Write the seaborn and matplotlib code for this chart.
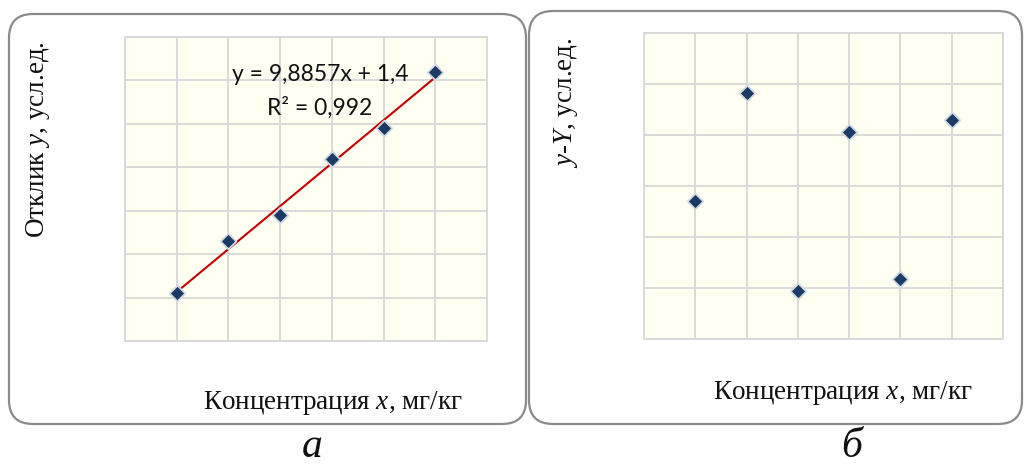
import matplotlib
matplotlib.use("Agg")
import matplotlib.pyplot as plt
import matplotlib.patches as mpatches
from matplotlib.transforms import IdentityTransform
import seaborn as sns
import pandas as pd
import numpy as np

# ---- data ----
conc_x = [1, 2, 3, 4, 5, 6]
response_y = [11, 23, 29, 42, 49, 62]
residuals = [-0.29, 1.83, -2.06, 1.06, -1.83, 1.29]
eq_text = "y = 9,8857x + 1,4"
r2_text = "R² = 0,992"
ylabel_a = ["Отклик ", "y", ", усл.ед."]
ylabel_b = ["y", "-", "Y", ", усл.ед."]
xlabel_parts = ["Концентрация ", "x", ", мг/кг"]
panel_labels = ["а", "б"]

sns.set_theme(style="white")
plt.rcParams["font.family"] = ["DejaVu Sans"]
plt.rcParams["mathtext.fontset"] = "custom"
plt.rcParams["mathtext.it"] = "Liberation Serif:italic"
plt.rcParams["mathtext.rm"] = "Liberation Serif"

W, H = 1025, 468
fig = plt.figure(figsize=(W / 100, H / 100), dpi=100)
fig.patch.set_facecolor("white")

def px_axes(l, t, r, b):
    return fig.add_axes([l / W, (H - b) / H, (r - l) / W, (b - t) / H])

# frames
for (x0, y0, x1, y1) in [(9, 14, 526, 424), (529, 11, 1022, 424)]:
    fp = mpatches.FancyBboxPatch((x0, H - y1), x1 - x0, y1 - y0,
                                 boxstyle="round,pad=0,rounding_size=24",
                                 transform=IdentityTransform(),
                                 facecolor="none", edgecolor="#8a8a8a", lw=1.6)
    fig.add_artist(fp)

bg = "#FFFFF2"
gridc = "#D9D9D9"
mcol = "#1B3A66"
medge = "#D3D9E0"

def style_ax(ax, xlim, ylim, step):
    ax.set_facecolor(bg)
    ax.set_xlim(*xlim)
    ax.set_ylim(*ylim)
    ax.set_xticks(range(xlim[0], xlim[1] + 1))
    ax.set_yticks(np.arange(ylim[0], ylim[1] + step / 2, step))
    ax.tick_params(length=0, labelbottom=False, labelleft=False)
    ax.grid(True, color=gridc, lw=1.4)
    ax.set_axisbelow(True)
    for s in ax.spines.values():
        s.set_color(gridc)
        s.set_linewidth(1.4)
    ax.set_xlabel("")
    ax.set_ylabel("")

df = pd.DataFrame({"x": conc_x, "y": response_y, "r": residuals})

# panel a
axa = px_axes(125, 37, 487, 341)
sns.regplot(data=df, x="x", y="y", ax=axa, ci=None, scatter=False,
            line_kws=dict(color="#C00000", lw=1.5))
sns.scatterplot(data=df, x="x", y="y", ax=axa, marker="D", s=64,
                color=mcol, edgecolor=medge, linewidth=1.3, zorder=5)
style_ax(axa, (0, 7), (0, 70), 10)
axa.text(3.77, 61.3, eq_text, ha="center", va="center", fontsize=16.5,
         family="Lato", color="#111111")
axa.text(3.77, 53.6, r2_text, ha="center", va="center", fontsize=16.5,
         family="Lato", color="#111111")

# panel b
axb = px_axes(644, 33, 1003, 339)
sns.scatterplot(data=df, x="x", y="r", ax=axb, marker="D", s=64,
                color=mcol, edgecolor=medge, linewidth=1.3, zorder=5)
style_ax(axb, (0, 7), (-3, 3), 1)

serif = "Liberation Serif"
fs = 19.5

def label_parts(x, y, parts, italic_idx, rotation=0):
    s = ""
    for i, p in enumerate(parts):
        if i in italic_idx:
            s += r"$\mathit{" + p + "}$"
        else:
            s += p
    fig.text(x / W, 1 - y / H, s, ha="center", va="center", rotation=rotation,
             fontsize=fs, family=serif, color="#111111")

label_parts(38, 140, ylabel_a, {1}, rotation=90)
label_parts(333, 403, xlabel_parts, {1})
label_parts(566, 103, ylabel_b, {0, 2}, rotation=90)
label_parts(843, 393, xlabel_parts, {1})

fig.text(312 / W, 1 - 457 / H, panel_labels[0], ha="center", va="baseline",
         fontsize=30, family=serif, style="italic", color="#111111")
fig.text(852 / W, 1 - 457 / H, panel_labels[1], ha="center", va="baseline",
         fontsize=30, family=serif, style="italic", color="#111111")

fig.savefig("out.png", dpi=100)
